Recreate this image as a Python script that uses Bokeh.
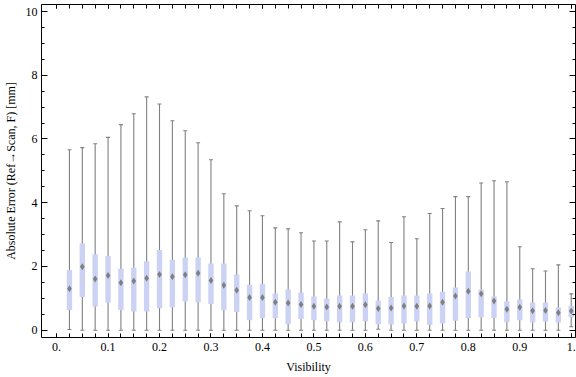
from bokeh.plotting import figure
from bokeh.models import FixedTicker, LinearAxis, Range1d, ColumnDataSource
from bokeh.embed import file_html
from bokeh.resources import INLINE

# ---- data ----
visibility = [0.025, 0.05, 0.075, 0.1, 0.125, 0.15, 0.175, 0.2, 0.225, 0.25,
              0.275, 0.3, 0.325, 0.35, 0.375, 0.4, 0.425, 0.45, 0.475, 0.5,
              0.525, 0.55, 0.575, 0.6, 0.625, 0.65, 0.675, 0.7, 0.725, 0.75,
              0.775, 0.8, 0.825, 0.85, 0.875, 0.9, 0.925, 0.95, 0.975, 1.0]
whisker_low = [0.02, 0.0, 0.0, 0.0, 0.0, 0.0, 0.0, 0.0, 0.0, 0.0,
               0.0, 0.0, 0.0, 0.0, 0.0, 0.0, 0.0, 0.0, 0.0, 0.0,
               0.0, 0.0, 0.0, 0.0, 0.03, 0.0, 0.0, 0.0, 0.0, 0.0,
               0.0, 0.0, 0.0, 0.0, 0.0, 0.0, 0.0, 0.0, 0.0, 0.11]
quartile1 = [0.63, 1.04, 0.74, 0.87, 0.63, 0.59, 0.59, 0.69, 0.72, 0.91,
             0.88, 0.82, 0.63, 0.57, 0.31, 0.38, 0.38, 0.19, 0.35, 0.31,
             0.28, 0.25, 0.25, 0.28, 0.19, 0.18, 0.21, 0.27, 0.16, 0.21,
             0.30, 0.38, 0.41, 0.38, 0.25, 0.31, 0.24, 0.27, 0.24, 0.41]
median = [1.30, 1.99, 1.61, 1.72, 1.49, 1.54, 1.63, 1.75, 1.68, 1.74,
          1.79, 1.56, 1.41, 1.25, 1.03, 1.03, 0.88, 0.85, 0.81, 0.75,
          0.73, 0.75, 0.75, 0.80, 0.68, 0.70, 0.76, 0.75, 0.76, 0.88,
          1.07, 1.22, 1.14, 0.92, 0.66, 0.72, 0.61, 0.62, 0.55, 0.60]
quartile3 = [1.89, 2.72, 2.38, 2.33, 1.93, 1.96, 2.16, 2.52, 2.21, 2.27,
             2.28, 2.09, 2.09, 1.75, 1.43, 1.46, 1.15, 1.28, 1.18, 1.06,
             0.99, 1.09, 1.09, 1.15, 0.93, 1.04, 1.09, 1.09, 1.15, 1.21,
             1.34, 1.84, 1.28, 1.06, 0.90, 0.96, 0.87, 0.87, 0.71, 0.77]
whisker_high = [5.66, 5.73, 5.85, 6.05, 6.45, 6.79, 7.32, 7.10, 6.57, 6.26,
                5.88, 5.35, 4.28, 3.90, 3.75, 3.59, 3.21, 3.18, 3.06, 2.80,
                2.80, 3.40, 2.77, 3.15, 3.43, 2.75, 3.56, 2.87, 3.66, 3.82,
                4.19, 4.19, 4.62, 4.69, 4.66, 2.62, 1.93, 1.86, 2.05, 1.14]

x_tick_values = [0.0, 0.1, 0.2, 0.3, 0.4, 0.5, 0.6, 0.7, 0.8, 0.9, 1.0]
x_tick_labels = ["0.", "0.1", "0.2", "0.3", "0.4", "0.5", "0.6", "0.7", "0.8", "0.9", "1."]
y_tick_values = [0, 2, 4, 6, 8, 10]
y_minor_values = [0.5 * i for i in range(21)]

x_label = "Visibility"
y_label = "Absolute Error (Ref\u2192Scan, F) [mm]"

# ---- styling ----
BOX = "#cbd2f4"
GRAY = "#808080"
FONT = "Liberation Serif"

src = ColumnDataSource(dict(x=visibility, lo=whisker_low, q1=quartile1,
                            med=median, q3=quartile3, hi=whisker_high))

p = figure(width=576, height=377, output_backend="svg", toolbar_location=None,
           x_range=Range1d(-0.0293, 1.0083), y_range=Range1d(-0.229, 10.22),
           min_border_left=37, min_border_right=1, min_border_top=4,
           min_border_bottom=40)
p.outline_line_color = None
p.xgrid.visible = False
p.ygrid.visible = False
p.background_fill_color = "white"
p.border_fill_color = "white"

p.segment(x0="x", y0="lo", x1="x", y1="hi", source=src, line_color=GRAY, line_width=1.1)
p.scatter(x="x", y="lo", source=src, marker="dash", size=4, line_color=GRAY, line_width=1.1)
p.scatter(x="x", y="hi", source=src, marker="dash", size=4, line_color=GRAY, line_width=1.1)
p.vbar(x="x", width=0.0104, bottom="q1", top="q3", source=src,
       fill_color=BOX, line_color=None)
p.scatter(x="x", y="med", source=src, marker="diamond", size=7,
          fill_color=GRAY, line_color=None)

xticker = FixedTicker(ticks=x_tick_values, minor_ticks=[0.0] + visibility)
yticker = FixedTicker(ticks=y_tick_values, minor_ticks=y_minor_values)


def style(ax, ticker, major_in, minor_in, labels=True):
    ax.ticker = ticker
    ax.axis_line_color = "black"
    ax.axis_line_width = 1
    ax.major_tick_line_color = "black"
    ax.minor_tick_line_color = "black"
    ax.major_tick_in = major_in
    ax.major_tick_out = 0
    ax.minor_tick_in = minor_in
    ax.minor_tick_out = 0
    ax.major_label_text_font = FONT
    ax.axis_label_text_font = FONT
    ax.axis_label_text_font_style = "normal"
    ax.axis_label_text_font_size = "12px"
    ax.axis_label_text_color = "black"
    if labels:
        ax.major_label_text_font_size = "12px"
        ax.major_label_text_color = "black"
    else:
        # frame side: ticks only, tick labels not painted
        ax.major_label_text_font_size = "0px"
        ax.major_label_text_color = None
        ax.major_label_text_alpha = 0
        ax.major_label_standoff = 0


xa = p.xaxis[0]
style(xa, xticker, 4, 4)
xa.major_label_overrides = dict(zip(x_tick_values, x_tick_labels))
xa.major_label_standoff = 5
xa.axis_label = x_label
xa.axis_label_standoff = 6

ya = p.yaxis[0]
style(ya, yticker, 6, 3)
ya.major_label_standoff = 4
ya.axis_label = y_label
ya.axis_label_standoff = 5

top = LinearAxis()
style(top, xticker, 4, 4, labels=False)
p.add_layout(top, "above")

right = LinearAxis()
style(right, yticker, 6, 3, labels=False)
p.add_layout(right, "right")

open("out.html", "w").write(file_html(p, INLINE))
